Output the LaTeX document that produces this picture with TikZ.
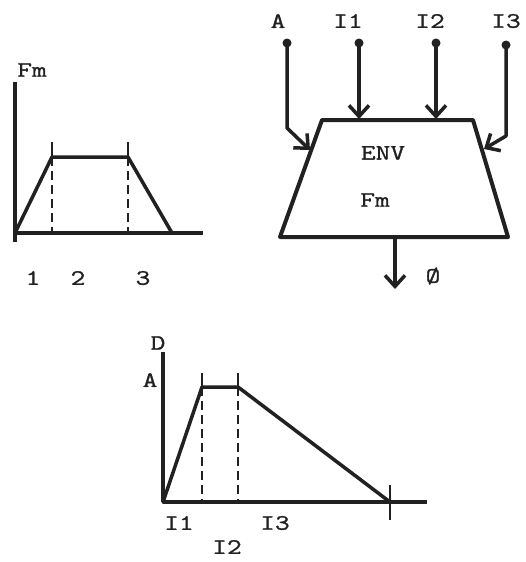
\documentclass[tikz,border=0pt]{standalone}
\usepackage{fontspec}
\newfontfamily\lblfont[FakeBold=1.2,FakeStretch=1.3]{Latin Modern Mono}
\usetikzlibrary{arrows.meta}
\definecolor{ink}{rgb}{0.13,0.13,0.13}
\begin{document}
\begin{tikzpicture}[x=1pt,y=-1pt,
  line/.style={draw=ink, line width=3.5pt, line cap=round, line join=round},
  axis/.style={draw=ink, line width=3.2pt},
  dashline/.style={draw=ink, line width=2.6pt, dash pattern=on 9pt off 5pt},
  lbl/.style={text=ink, font=\lblfont\fontsize{22}{22}\selectfont, inner sep=0pt},
  arr/.style={line, -{Straight Barb[length=11pt,width=20pt,line width=3.5pt]}},
  dot/.style={circle, fill=ink, inner sep=0pt, minimum size=9pt}]
\useasboundingbox (0,0) rectangle (525,562);
\fill[white] (0,0) rectangle (525,562);

% ---------- top-left graph ----------
\coordinate (a1b) at (15,242);
\coordinate (a1t) at (15,82);
\coordinate (o1) at (15,233);
\coordinate (x1e) at (203,233);
\coordinate (p1) at (52,157);
\coordinate (p2) at (128,157);
\coordinate (p3) at (172,233);
\coordinate (t1) at (52,142);
\coordinate (t1b) at (52,233);
\coordinate (t2) at (128,142);
\coordinate (t2b) at (128,233);
\draw[axis] (a1b) -- (a1t);
\draw[axis] (o1) -- (x1e);
\draw[line] (o1) -- (p1) -- (p2) -- (p3);
\draw[axis, line width=2.6pt] (t1) -- (p1);
\draw[axis, line width=2.6pt] (t2) -- (p2);
\draw[dashline] (p1) -- (t1b);
\draw[dashline] (p2) -- (t2b);
\node[lbl] (fm1) at (32,70) {Fm};
\node[lbl] (n1) at (33,278) {1};
\node[lbl] (n2) at (78,278) {2};
\node[lbl] (n3) at (143,278) {3};

% ---------- block ----------
\node[lbl] (lA) at (278,21) {A};
\node[lbl] (lI1) at (348,21) {I1};
\node[lbl] (lI2) at (430,21) {I2};
\node[lbl] (lI3) at (506,21) {I3};
\node[dot] (dA) at (287,43) {};
\node[dot] (dI1) at (359,43) {};
\node[dot] (dI2) at (436,43) {};
\node[dot] (dI3) at (506,45) {};
\coordinate (tl) at (322,120);
\coordinate (tr) at (473,120);
\coordinate (br) at (508,237);
\coordinate (bl) at (280,237);
\draw[line, line width=4pt] (tl) -- (tr) -- (br) -- (bl) -- cycle;
\coordinate (kA) at (287,128);
\coordinate (eA) at (310,150);
\coordinate (eI1) at (359,119);
\coordinate (eI2) at (436,119);
\coordinate (kI3) at (506,136);
\coordinate (eI3) at (484,149);
\draw[arr] (dA.center) -- (kA) -- (eA);
\draw[arr] (dI1.center) -- (eI1);
\draw[arr] (dI2.center) -- (eI2);
\draw[arr] (dI3.center) -- (kI3) -- (eI3);
\node[lbl] (env) at (383,153) {ENV};
\node[lbl] (fm2) at (375,200) {Fm};
\coordinate (outS) at (395,237);
\coordinate (outE) at (395,289);
\draw[arr] (outS) -- (outE);
\node[lbl] (phi) at (433,276) {Ø};

% ---------- bottom graph ----------
\coordinate (a2t) at (163,352);
\coordinate (o2) at (163,502);
\coordinate (x2e) at (427,502);
\coordinate (q1) at (202,387);
\coordinate (q2) at (238,387);
\coordinate (q3) at (390,502);
\coordinate (s1) at (202,373);
\coordinate (s1b) at (202,502);
\coordinate (s2) at (238,373);
\coordinate (s2b) at (238,502);
\coordinate (m1) at (390,485);
\coordinate (m2) at (390,520);
\draw[axis] (o2) -- (a2t);
\draw[axis] (o2) -- (x2e);
\draw[line] (o2) -- (q1) -- (q2) -- (q3);
\draw[axis, line width=2.6pt] (s1) -- (q1);
\draw[axis, line width=2.6pt] (s2) -- (q2);
\draw[dashline] (q1) -- (s1b);
\draw[dashline] (q2) -- (s2b);
\draw[axis, line width=2.8pt] (m1) -- (m2);
\node[lbl] (lD) at (158,343) {D};
\node[lbl] (lA2) at (150,380) {A};
\node[lbl] (b1) at (179,523) {I1};
\node[lbl] (b3) at (275,523) {I3};
\node[lbl] (b2) at (227,547) {I2};
\end{tikzpicture}
\end{document}
